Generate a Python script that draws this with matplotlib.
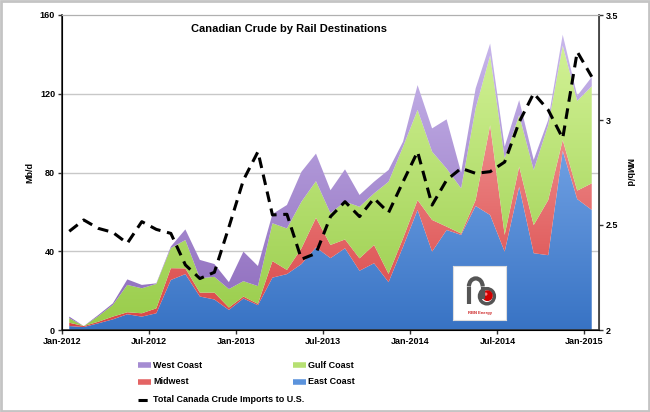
import matplotlib
matplotlib.use("Agg")
import matplotlib.pyplot as plt
import numpy as np
from matplotlib.colors import LinearSegmentedColormap
from matplotlib.lines import Line2D
from matplotlib.patches import Rectangle, Circle, Arc

plt.rcParams["font.family"] = ["Liberation Sans", "DejaVu Sans"]
plt.rcParams["font.weight"] = "bold"

# monthly, Jan-2012 .. Jan-2015 (Mb/d)
east = [2, 1.5, 3.4, 5.4, 8, 6.8, 8.5, 25.4, 28.4, 17, 15.5, 10.2, 16, 12.6,
        26.6, 28.4, 33.5, 42, 36.5, 41.5, 30.1, 33.9, 24.3, 42.3, 61, 39.8,
        50.8, 48.3, 63, 58.4, 39.8, 72.8, 39, 38, 91, 66.5, 61]
midwest = [1.7, 0.5, 0.8, 1.4, 1, 1.7, 2.5, 6, 2.9, 2, 3.5, 1.2, 1, 0.7,
           8.4, 2.1, 8, 15, 6.7, 4.5, 6.3, 9.3, 4.2, 4.3, 5, 16.1,
           1.7, 0.7, 3, 45.6, 8.5, 10.2, 14.3, 28, 5.5, 4.3, 13.5]
gulf = [2.3, 0, 2.8, 5.9, 13.9, 12.7, 12.4, 10.2, 14.4, 7.3, 8, 9.4, 7.8, 9,
        19.2, 21.1, 23.7, 18.6, 16.1, 19.2, 26.2, 26.2, 46.8, 46.5, 45.8, 34.7,
        29.5, 23, 46.6, 35.5, 38.9, 26.2, 28, 38, 48, 45.6, 49.3]
west = [0.8, 0, 0.6, 0.8, 2.8, 1.7, 0.3, 0.8, 5.4, 9.3, 6.5, 3.5, 15, 10.2,
        4.7, 11.9, 15.2, 14, 11.7, 16.4, 6, 5.9, 6, 2.6, 12.6, 11.8,
        25, 8, 10.1, 6, 5.9, 7.6, 5.1, 2.7, 5.5, 2.6, 4.7]
# total Canada crude imports to U.S. (MMb/d)
total_imports = [2.47, 2.524, 2.484, 2.465, 2.413, 2.516, 2.479, 2.46, 2.31,
                 2.245, 2.275, 2.49, 2.714, 2.849, 2.548, 2.551, 2.337, 2.365,
                 2.54, 2.611, 2.54, 2.627, 2.559, 2.706, 2.849, 2.595, 2.714,
                 2.77, 2.746, 2.754, 2.80, 2.99, 3.127, 3.048, 2.913, 3.325,
                 3.206]
tick_labels = ["Jan-2012", "Jul-2012", "Jan-2013", "Jul-2013",
               "Jan-2014", "Jul-2014", "Jan-2015"]

series = [
    ("East Coast", east, "#3873c4", "#93bdf7"),
    ("Midwest", midwest, "#d94545", "#f8acac"),
    ("Gulf Coast", gulf, "#98cc4a", "#d4f398"),
    ("West Coast", west, "#8c69bb", "#c9b8ec"),
]

W, H = 650, 412
fig = plt.figure(figsize=(W / 100, H / 100), dpi=100)
fig.patch.set_facecolor("white")
fig.patches.append(Rectangle((0.002, 0.003), 0.996, 0.994, transform=fig.transFigure,
                             fill=False, edgecolor="#c4c4c4", linewidth=2))

ax = fig.add_axes([62 / W, 1 - 330 / H, (599 - 62) / W, (330 - 15) / H])
x = np.arange(len(east)) + 0.5
ax.set_xlim(0, 37)
ax.set_ylim(0, 160)

for gy in [40, 80, 120]:
    ax.axhline(gy, color="#c8c8c8", linewidth=1, zorder=0)

# stacked areas with a vertical gradient clipped to each band
base = np.zeros(len(east))
for name, vals, c0, c1 in series:
    top = base + np.array(vals)
    poly = ax.fill_between(x, base, top, facecolor="none", edgecolor="none", zorder=1)
    cmap = LinearSegmentedColormap.from_list(name, [c0, c1])
    grad = np.linspace(0, 1, 256).reshape(-1, 1)
    im = ax.imshow(grad, cmap=cmap, origin="lower", aspect="auto",
                   extent=[0, 37, 0, 150], zorder=1, interpolation="bilinear")
    im.set_clip_path(poly.get_paths()[0], ax.transData)
    base = top
ax.set_xlim(0, 37)
ax.set_ylim(0, 160)

ax.set_xticks(np.arange(0, 37, 6))
ax.set_xticklabels(tick_labels)
ax.set_yticks([0, 40, 80, 120, 160])
ax.tick_params(axis="both", labelsize=6.5, length=3, width=1, color="#333333", pad=2)
ax.set_ylabel("Mb/d", fontsize=6.5, fontweight="bold", labelpad=4)
for s in ["top", "right"]:
    ax.spines[s].set_color("#b0b0b0")
for s in ["left", "bottom"]:
    ax.spines[s].set_color("#333333")
    ax.spines[s].set_linewidth(1.2)

ax2 = ax.twinx()
ax2.plot(x, total_imports, color="black", linewidth=2.2, dashes=(3.5, 2.2), zorder=5)
ax2.set_ylim(2, 3.5)
ax2.set_yticks([2, 2.5, 3, 3.5])
ax2.set_yticklabels(["2", "2.5", "3", "3.5"])
ax2.tick_params(axis="y", labelsize=6.5, length=3, width=1, color="#333333", pad=2)
ax2.set_ylabel("MMb/d", fontsize=6.5, fontweight="bold", rotation=270, labelpad=11)
ax2.spines["right"].set_color("#333333")
ax2.spines["right"].set_linewidth(1.2)
ax2.spines["top"].set_color("#b0b0b0")

ax.text(0.422, 0.955, "Canadian Crude by Rail Destinations", transform=ax.transAxes,
        ha="center", va="center", fontsize=8, fontweight="bold")

# RBN logo
lg = fig.add_axes([453 / W, 1 - 320 / H, 53 / W, 54 / H])
lg.set_xlim(0, 1)
lg.set_ylim(0, 1)
lg.set_xticks([])
lg.set_yticks([])
for s in lg.spines.values():
    s.set_color("#dddddd")
lg.plot([0.3, 0.3], [0.3, 0.62], color="#555555", linewidth=3, solid_capstyle="butt")
lg.add_patch(Arc((0.43, 0.62), 0.26, 0.3, theta1=0, theta2=180, color="#555555", linewidth=3))
lg.plot([0.56, 0.56], [0.62, 0.38], color="#555555", linewidth=3, solid_capstyle="butt")
lg.add_patch(Circle((0.64, 0.44), 0.14, facecolor="white", edgecolor="#555555", linewidth=2.5))
lg.add_patch(Circle((0.65, 0.45), 0.1, facecolor="#d00000", edgecolor="none"))
lg.add_patch(Circle((0.62, 0.48), 0.03, facecolor="#ff8080", edgecolor="none"))
lg.text(0.5, 0.13, "RBN Energy", fontsize=3, color="#cc2222", ha="center", va="center")

# legend
items = [
    ("West Coast", "#a58cd2", 138, 365),
    ("Gulf Coast", "#b6e072", 293, 365),
    ("Midwest", "#e46464", 138, 382),
    ("East Coast", "#5b93dc", 293, 382),
]
for label, col, lx, ly in items:
    fig.add_artist(Line2D([lx / W, (lx + 13) / W], [1 - ly / H] * 2, color=col,
                          linewidth=4, solid_capstyle="butt"))
    fig.text((lx + 15) / W, 1 - ly / H, label, fontsize=6.5, fontweight="bold",
             va="center", ha="left")
fig.add_artist(Line2D([138 / W, 151 / W], [1 - 400 / H] * 2, color="black",
                      linewidth=2.2, dashes=(3, 1.5)))
fig.text(153 / W, 1 - 400 / H, "Total Canada Crude Imports to U.S.", fontsize=6.5,
         fontweight="bold", va="center", ha="left")

fig.savefig("out.png", dpi=100)
